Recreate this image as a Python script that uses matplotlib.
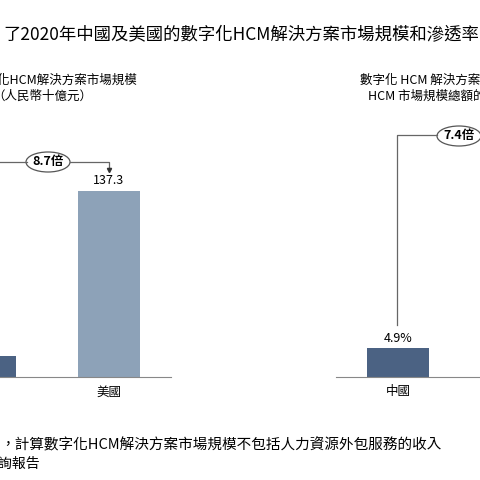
import matplotlib
matplotlib.use("Agg")
import matplotlib.pyplot as plt
from matplotlib.patches import Ellipse

plt.rcParams['font.family'] = ['Noto Sans CJK TC', 'DejaVu Sans']

categories = ["中國", "美國"]
market_size = [15.8, 137.3]          # RMB billion
penetration = [4.9, 36.3]            # %
size_labels = ["", "137.3"]
pen_labels = ["4.9%", ""]
colors = ["#4b6283", "#8da2b8"]

W = 480
fig = plt.figure(figsize=(4.8, 4.8), dpi=100)

def fx(p): return p / W
def fy(p): return 1 - p / W

def setup(ax):
    for s in ["top", "right", "left"]:
        ax.spines[s].set_visible(False)
    ax.spines["bottom"].set_color("#888888")
    ax.set_yticks([])
    ax.tick_params(axis="x", length=0, labelsize=9, pad=6)

# left panel
ax1 = fig.add_axes([fx(-77), fy(377), fx(248), 203 / W])
ax1.bar(range(2), market_size, width=0.5, color=colors)
ax1.set_xlim(-0.5, 1.5); ax1.set_ylim(0, 150)
ax1.set_xticks(range(2)); ax1.set_xticklabels(categories)
for i, (v, l) in enumerate(zip(market_size, size_labels)):
    if l:
        ax1.text(i, v + 3, l, ha="center", va="bottom", fontsize=9)
setup(ax1)

# right panel
ax2 = fig.add_axes([fx(336), fy(377), fx(248), 236 / W])
ax2.bar(range(2), penetration, width=0.5, color=colors)
ax2.set_xlim(-0.5, 1.5); ax2.set_ylim(0, 40)
ax2.set_xticks(range(2)); ax2.set_xticklabels(categories)
for i, (v, l) in enumerate(zip(penetration, pen_labels)):
    if l:
        ax2.text(i, v + 0.6, l, ha="center", va="bottom", fontsize=9)
setup(ax2)

# brackets
def line(xs, ys):
    fig.add_artist(plt.Line2D([fx(x) for x in xs], [fy(y) for y in ys],
                              transform=fig.transFigure, color="#666666", lw=0.9))
line([-5, 27], [162, 162]); line([70, 109, 109], [162, 162, 168])
fig.add_artist(plt.Line2D([fx(109)], [fy(170)], marker="v", markersize=3,
                          color="#333333", transform=fig.transFigure))
fig.add_artist(Ellipse((fx(48), fy(162)), fx(44), 20 / W, transform=fig.transFigure,
                       fill=False, ec="#555555", lw=0.9))
fig.text(fx(48), fy(162), "8.7倍", ha="center", va="center", fontsize=9, weight="bold")
line([397, 397, 437], [325, 135, 135])
fig.add_artist(Ellipse((fx(459), fy(136)), fx(44), 20 / W, transform=fig.transFigure,
                       fill=False, ec="#555555", lw=0.9))
fig.text(fx(459), fy(136), "7.4倍", ha="center", va="center", fontsize=9, weight="bold")

# titles
fig.text(fx(3), fy(34), "了2020年中國及美國的數字化HCM解決方案市場規模和滲透率",
         ha="left", va="center", fontsize=12.5)
fig.text(fx(137), fy(80), "數字化HCM解決方案市場規模", ha="right", va="center", fontsize=9)
fig.text(fx(92), fy(96), "（人民幣十億元）", ha="right", va="center", fontsize=9)
fig.text(fx(360), fy(80), "數字化 HCM 解決方案市場規模佔", ha="left", va="center", fontsize=9)
fig.text(fx(368), fy(96), "HCM 市場規模總額的百分比", ha="left", va="center", fontsize=9)

# footnotes
fig.text(fx(0), fy(445), "，計算數字化HCM解決方案市場規模不包括人力資源外包服務的收入",
         ha="left", va="center", fontsize=10.5)
fig.text(fx(40), fy(464), "資料來源：灼識諮詢報告", ha="right", va="center",
         fontsize=10, style="italic")

fig.savefig("out.png", dpi=100)
